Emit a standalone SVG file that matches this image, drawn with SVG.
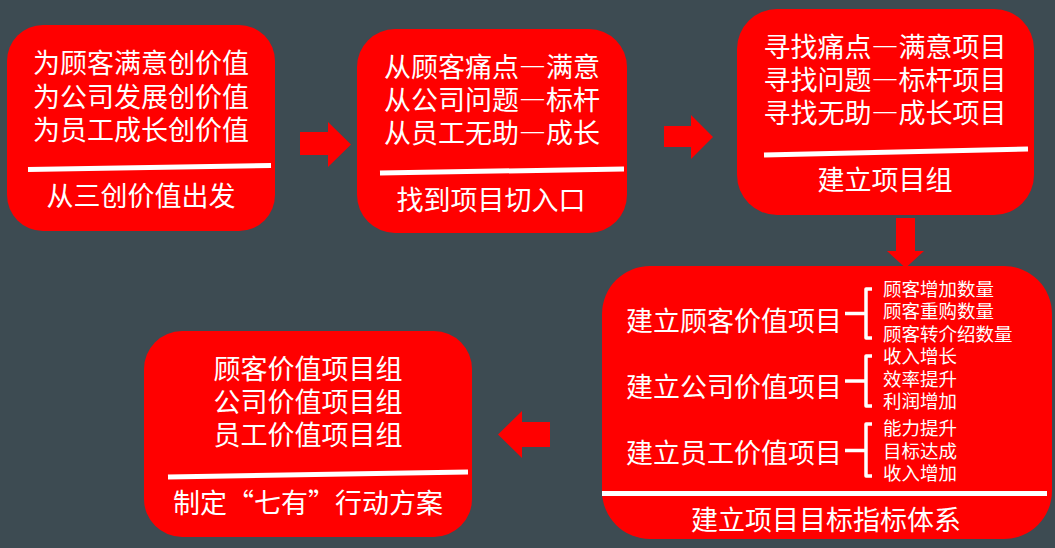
<svg xmlns="http://www.w3.org/2000/svg" width="1055" height="548" viewBox="0 0 1055 548">
<style>
.box{fill:#ff0000}
.t{font-family:"Noto Sans CJK SC","Noto Sans",sans-serif;fill:#ffffff;text-anchor:middle;dominant-baseline:central;font-size:27px}
.ts{font-family:"Noto Sans CJK SC","Noto Sans",sans-serif;fill:#ffffff;dominant-baseline:central;font-size:18.5px}
.tl{font-family:"Noto Sans CJK SC","Noto Sans",sans-serif;fill:#ffffff;dominant-baseline:central;font-size:27px}
.fw{font-feature-settings:"fwid" 1}
.sep{stroke:#ffffff;stroke-width:5;fill:none}
.br{stroke:#ffffff;stroke-width:3.5;fill:none;stroke-linejoin:round}
.arr{fill:#ff0000}
</style>
<rect width="1055" height="548" fill="#3d4b52"/>
<g id="connectors">
<polygon class="arr" points="300,132 328,132 328,122 351,144.5 328,167 328,155 300,155"/>
<polygon class="arr" points="664,126 691,126 691,115 713,137 691,159 691,147 664,147"/>
<polygon class="arr" points="896,218 915,218 915,251 924,251 905.5,268 887,251 896,251"/>
<polygon class="arr" points="550,422 522,422 522,411 498,434.5 522,458 522,447 550,447"/>
</g>
<g id="node1">
<rect class="box" x="7" y="25" width="268" height="206" rx="36"/>
<text class="t" x="141" y="61">为顾客满意创价值</text>
<text class="t" x="141" y="95">为公司发展创价值</text>
<text class="t" x="141" y="128">为员工成长创价值</text>
<line class="sep" x1="28" y1="169.5" x2="271" y2="165.5"/>
<text class="t" x="141" y="194">从三创价值出发</text>
</g>
<g id="node2">
<rect class="box" x="357" y="29" width="270" height="204" rx="38"/>
<text class="t fw" x="492" y="65">从顾客痛点—满意</text>
<text class="t fw" x="492" y="98.5">从公司问题—标杆</text>
<text class="t fw" x="492" y="131.5">从员工无助—成长</text>
<line class="sep" x1="380" y1="173" x2="624" y2="169"/>
<text class="t" x="491" y="198.5">找到项目切入口</text>
</g>
<g id="node3">
<rect class="box" x="737" y="9" width="297" height="206" rx="40"/>
<text class="t fw" x="885" y="45">寻找痛点—满意项目</text>
<text class="t fw" x="885" y="78.5">寻找问题—标杆项目</text>
<text class="t fw" x="885" y="111.5">寻找无助—成长项目</text>
<line class="sep" x1="764" y1="155" x2="1028" y2="149"/>
<text class="t" x="885" y="178.5">建立项目组</text>
</g>
<g id="node4">
<rect class="box" x="602" y="266" width="450" height="273" rx="48"/>
<text class="tl" x="626" y="319.5">建立顾客价值项目</text>
<text class="tl" x="626" y="385">建立公司价值项目</text>
<text class="tl" x="626" y="451.5">建立员工价值项目</text>
<path class="br" d="M872,289 H866 V338 H872 M845,313.5 H866"/>
<path class="br" d="M872,356 H866 V406 H872 M845,381 H866"/>
<path class="br" d="M872,424 H866 V476 H872 M845,450.5 H866"/>
<text class="ts" x="883" y="287.5">顾客增加数量</text>
<text class="ts" x="883" y="310">顾客重购数量</text>
<text class="ts" x="883" y="332.5">顾客转介绍数量</text>
<text class="ts" x="883" y="355">收入增长</text>
<text class="ts" x="883" y="378">效率提升</text>
<text class="ts" x="883" y="400">利润增加</text>
<text class="ts" x="883" y="427">能力提升</text>
<text class="ts" x="883" y="449.5">目标达成</text>
<text class="ts" x="883" y="471.5" fill="#fffde8">收入增加</text>
<line class="sep" x1="602" y1="493.5" x2="1047" y2="493.5"/>
<text class="t" x="826" y="518.5">建立项目目标指标体系</text>
</g>
<g id="node5">
<rect class="box" x="144" y="331" width="328" height="206" rx="38"/>
<text class="t" x="308" y="367.5">顾客价值项目组</text>
<text class="t" x="308" y="400">公司价值项目组</text>
<text class="t" x="308" y="433.5">员工价值项目组</text>
<line class="sep" x1="168" y1="477" x2="468" y2="472"/>
<text class="t" x="308" y="501.5">制定“七有”行动方案</text>
</g>
</svg>
